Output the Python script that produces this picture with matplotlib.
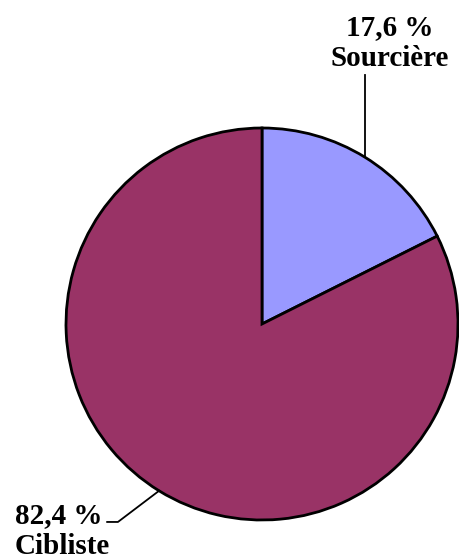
import numpy as np
import matplotlib.pyplot as plt

labels = ["Sourcière", "Cibliste"]
values = [17.6, 82.4]
colors = ["#9999FF", "#993366"]

fig = plt.figure(figsize=(4.59, 5.59), dpi=100)
# pie centre at about (262, 324) px, radius 196 px
ax = fig.add_axes([66 / 459, 39 / 559, 392 / 459, 392 / 559])

wedges, _ = ax.pie(values, colors=colors, startangle=90, counterclock=False,
                   radius=1, wedgeprops=dict(edgecolor="black", linewidth=2))
ax.set_xlim(-1, 1)
ax.set_ylim(-1, 1)
ax.axis("off")

font = dict(family="Liberation Serif", fontweight="bold", fontsize=21)

def mid_point(w):
    ang = np.deg2rad((w.theta1 + w.theta2) / 2)
    return np.cos(ang), np.sin(ang)

# Sourcière: label above, vertical leader
mx, my = mid_point(wedges[0])
ax.plot([mx, mx], [my, 1.27], color="black", lw=1.3, clip_on=False)
ax.text(0.653, 1.435, f"{values[0]:.1f} %".replace(".", ",") + "\n" + labels[0],
        ha="center", va="center", linespacing=1.2, **font)

# Cibliste: label bottom left, bent leader
mx, my = mid_point(wedges[1])
ax.plot([-0.79, -0.735, mx], [-1.01, -1.01, my], color="black", lw=1.3, clip_on=False)
ax.text(-1.26, -1.055, f"{values[1]:.1f} %".replace(".", ",") + "\n" + labels[1],
        ha="left", va="center", linespacing=1.2, **font)

fig.savefig("out.png", dpi=100)
